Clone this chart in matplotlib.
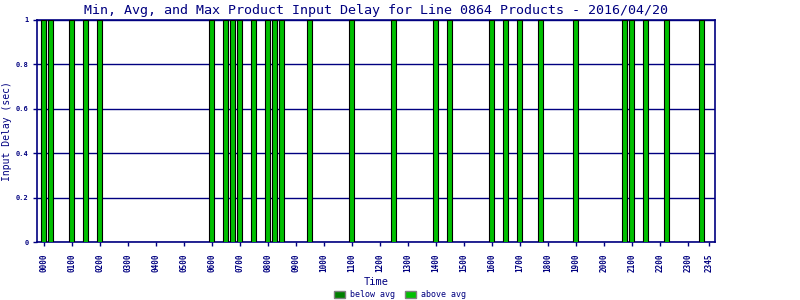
import matplotlib
matplotlib.use('Agg')
import matplotlib.pyplot as plt
from matplotlib.patches import Patch

# bar data (15 minute slots), values clipped at the top of the axis
bar_times = ['0000', '0015', '0100', '0130', '0200', '0600', '0630', '0645', '0700',
             '0730', '0800', '0815', '0830', '0930', '1100', '1230', '1400', '1430',
             '1600', '1630', '1700', '1745', '1900', '2045', '2100', '2130', '2215', '2330']
bar_values = [1.0, 1.0, 1.0, 1.0, 1.0, 1.0, 1.0, 1.0, 1.0,
              1.0, 1.0, 1.0, 1.0, 1.0, 1.0, 1.0, 1.0, 1.0,
              1.0, 1.0, 1.0, 1.0, 1.0, 1.0, 1.0, 1.0, 1.0, 1.0]
tick_times = ['0000', '0100', '0200', '0300', '0400', '0500', '0600', '0700', '0800',
              '0900', '1000', '1100', '1200', '1300', '1400', '1500', '1600', '1700',
              '1800', '1900', '2000', '2100', '2200', '2300', '2345']
y_ticks = [0, 0.2, 0.4, 0.6, 0.8, 1]
y_labels = ['0', '0.2', '0.4', '0.6', '0.8', '1']


def slot(t):
    return int(t[:2]) * 4 + int(t[2:]) // 15


navy = '#000080'
plt.rcParams['font.family'] = 'DejaVu Sans Mono'

fig = plt.figure(figsize=(8, 3), dpi=100)
ax = fig.add_axes([0.0459, 0.1923, 0.8482, 0.7417])

ax.bar([slot(t) for t in bar_times], bar_values, width=0.76,
       color='#00c000', edgecolor='black', linewidth=0.8, zorder=3)

ax.set_xlim(-1, 95.95)
ax.set_ylim(0, 1)
ax.set_yticks(y_ticks)
ax.set_yticklabels(y_labels, fontsize=5, fontweight='bold', color=navy)
ax.set_xticks([slot(t) for t in tick_times])
ax.set_xticklabels(tick_times, rotation=90, fontsize=5.5, fontweight='bold', color=navy)
ax.tick_params(axis='both', colors=navy, length=3, width=1)
ax.tick_params(axis='x', pad=5)
ax.tick_params(axis='y', pad=3)
ax.grid(axis='y', color=navy, linewidth=1, zorder=0)
for s in ax.spines.values():
    s.set_color(navy)
    s.set_linewidth(1.2)

ax.set_title('Min, Avg, and Max Product Input Delay for Line 0864 Products - 2016/04/20',
             fontsize=9.6, color=navy, pad=4)
ax.set_ylabel('Input Delay (sec)', fontsize=7, color=navy)
ax.yaxis.set_label_coords(-0.036, 0.5)
ax.set_xlabel('Time', fontsize=7.5, color=navy)
ax.xaxis.set_label_coords(0.5, -0.156)

handles = [Patch(facecolor='#008000', edgecolor='gray', label='below avg'),
           Patch(facecolor='#00c000', edgecolor='gray', label='above avg')]
leg = fig.legend(handles=handles, loc='center', ncol=2, frameon=False,
                 fontsize=6, bbox_to_anchor=(0.5, 0.017), handlelength=1.4,
                 handleheight=1.0, handletextpad=0.6, columnspacing=1.1)
for txt in leg.get_texts():
    txt.set_color(navy)

fig.savefig('out.png', dpi=100)
